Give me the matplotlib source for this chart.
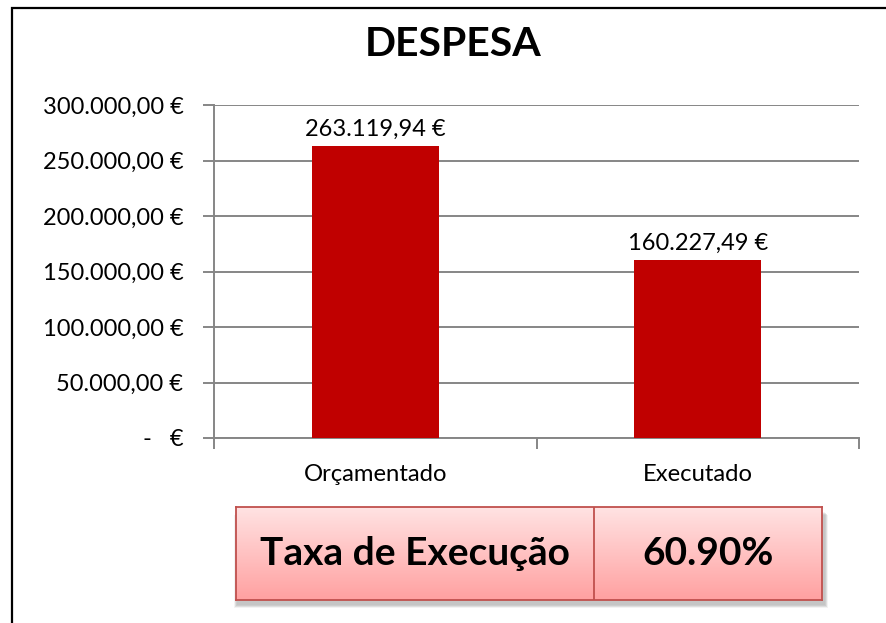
import matplotlib.pyplot as plt
import numpy as np
from matplotlib.patches import Rectangle
from matplotlib.ticker import FuncFormatter, MultipleLocator

plt.rcParams['font.family'] = ['Lato', 'DejaVu Sans']

categories = ['Orçamentado', 'Executado']
values = [263119.94, 160227.49]
title = 'DESPESA'
rate_label = 'Taxa de Execução'

bar_color = '#C00000'
grid_color = '#868686'


def euro(v):
    s = '{:,.2f}'.format(v).replace(',', ' ').replace('.', ',').replace(' ', '.')
    return s + ' €'


def euro_tick(v, pos):
    if abs(v) < 1e-9:
        return '-   €'
    return euro(v)


W, H = 886, 623
fig = plt.figure(figsize=(W / 100, H / 100), dpi=100)

# outer chart frame (only left and top edges visible)
fig.add_artist(Rectangle((12 / W, -0.1), 1.2, 1 - 8 / H + 0.1, transform=fig.transFigure,
                         fill=False, edgecolor='black', linewidth=1.6))

ax = fig.add_axes([214 / W, 1 - 438 / H, (859 - 214) / W, (438 - 105) / H])
x = np.arange(len(categories))
ax.bar(x, values, width=0.395, color=bar_color, zorder=3)
ax.set_xlim(-0.5, len(categories) - 0.5)
ax.set_ylim(0, 300000)
ax.yaxis.set_major_locator(MultipleLocator(50000))
ax.yaxis.set_major_formatter(FuncFormatter(euro_tick))
ax.yaxis.grid(True, color=grid_color, linewidth=1.4, zorder=0)
ax.set_axisbelow(True)

for side in ['top', 'right']:
    ax.spines[side].set_visible(False)
ax.spines['left'].set_color(grid_color)
ax.spines['bottom'].set_color(grid_color)
ax.spines['left'].set_linewidth(1.4)
ax.spines['bottom'].set_linewidth(1.4)

ax.set_xticks(np.arange(len(categories) + 1) - 0.5, minor=False)
ax.set_xticklabels([''] * (len(categories) + 1))
ax.set_xticks(x, minor=True)
ax.set_xticklabels(categories, minor=True)
ax.tick_params(axis='x', which='major', direction='out', length=8, color=grid_color, width=1.4)
ax.tick_params(axis='x', which='minor', length=0, pad=19, labelsize=17.2)
ax.tick_params(axis='y', direction='out', length=8, color=grid_color, width=1.4, pad=14, labelsize=17)

for xi, v in zip(x, values):
    ax.text(xi, v + 5500, euro(v), ha='center', va='bottom', fontsize=17)

fig.text(453 / W, 1 - 45 / H, title, ha='center', va='center', fontsize=29.5, fontweight='bold')

# execution rate box
bx0, bx1, by0, by1, bdiv = 236, 822, 507, 600, 594
for i in range(6):
    fig.add_artist(Rectangle(((bx0 + 1 - i * 0.6) / W, 1 - (by1 + 5 + i * 0.6) / H),
                             (bx1 - bx0 + 2 + i * 1.2) / W, (by1 - by0) / H,
                             transform=fig.transFigure, facecolor='#707070',
                             edgecolor='none', alpha=0.08, zorder=-1))
bax = fig.add_axes([bx0 / W, 1 - by1 / H, (bx1 - bx0) / W, (by1 - by0) / H])
grad = np.linspace(0, 1, 100).reshape(-1, 1)
top = np.array([1.0, 0.89, 0.89])
bot = np.array([1.0, 0.63, 0.63])
img = top + (bot - top) * grad[:, :, None]
bax.imshow(img, aspect='auto', extent=[0, 1, 0, 1], origin='upper')
bax.set_xlim(0, 1)
bax.set_ylim(0, 1)
bax.set_xticks([])
bax.set_yticks([])
for sp in bax.spines.values():
    sp.set_color('#C0504D')
    sp.set_linewidth(1.3)
div = (bdiv - bx0) / (bx1 - bx0)
bax.axvline(div, color='#C0504D', linewidth=1.3)
rate = values[1] / values[0] * 100
bax.text(div / 2, 0.5, rate_label, ha='center', va='center', fontsize=28, fontweight='bold')
bax.text((1 + div) / 2, 0.5, '{:.2f}%'.format(rate), ha='center', va='center', fontsize=28,
         fontweight='bold')

fig.savefig('out.png', dpi=100)
